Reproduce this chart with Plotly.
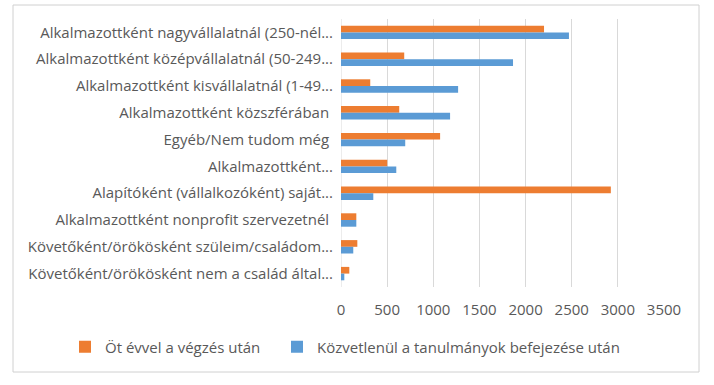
import plotly.graph_objects as go

categories = [
    "Alkalmazottként nagyvállalatnál (250-nél...",
    "Alkalmazottként középvállalatnál (50-249...",
    "Alkalmazottként kisvállalatnál (1-49...",
    "Alkalmazottként közszférában ",
    "Egyéb/Nem tudom még ",
    "Alkalmazottként...",
    "Alapítóként (vállalkozóként) saját...",
    "Alkalmazottként nonprofit szervezetnél ",
    "Követőként/örökösként szüleim/családom...",
    "Követőként/örökösként nem a család által...",
]
series_names = ["Öt évvel a végzés után", "Közvetlenül a tanulmányok befejezése után"]
ot_evvel = [2200, 685, 317, 631, 1074, 501, 2924, 166, 177, 90]
kozvetlenul = [2470, 1864, 1269, 1182, 696, 599, 350, 166, 133, 36]
x_ticks = [0, 500, 1000, 1500, 2000, 2500, 3000, 3500]

W, H = 714, 385
L, R, T, B = 341, 664, 19, 287
pw, ph = R - L, B - T

def px2x(x):
    return (x - L) / pw

def px2y(y):
    return (B - y) / ph

FONT = "Open Sans"
FS = 15
TXT = "#595959"

fig = go.Figure()
fig.add_trace(go.Bar(y=categories, x=ot_evvel, name=series_names[0], orientation="h",
                     marker=dict(color="#ED7D31", line=dict(width=0)), legend="legend"))
fig.add_trace(go.Bar(y=categories, x=kozvetlenul, name=series_names[1], orientation="h",
                     marker=dict(color="#5B9BD5", line=dict(width=0)), legend="legend2"))

leg_common = dict(orientation="h", xref="container", xanchor="left",
                  yref="container", y=1 - 347 / H, yanchor="middle",
                  font=dict(family=FONT, size=FS, color=TXT),
                  bgcolor="rgba(0,0,0,0)", borderwidth=0, itemwidth=30)

fig.update_layout(
    width=W, height=H,
    margin=dict(l=L, r=W - R, t=T, b=H - B, pad=0, autoexpand=False),
    paper_bgcolor="white", plot_bgcolor="white",
    barmode="group", bargap=0.5, bargroupgap=0,
    font=dict(family=FONT, size=FS, color=TXT),
    showlegend=True,
    legend=dict(x=65 / W, **leg_common),
    legend2=dict(x=277 / W, **leg_common),
    shapes=[dict(type="rect", xref="paper", yref="paper",
                 x0=px2x(13), x1=px2x(699), y0=px2y(372), y1=px2y(5),
                 line=dict(color="#D0D0D0", width=1), fillcolor="rgba(0,0,0,0)", layer="above"),
            dict(type="line", xref="x", yref="paper", x0=0, x1=0, y0=0, y1=1,
                 line=dict(color="#D9D9D9", width=1), layer="below")],
)
fig.update_xaxes(range=[0, 3500], tickvals=x_ticks, ticktext=[str(v) for v in x_ticks],
                 showgrid=True, gridcolor="#D9D9D9", gridwidth=1, zeroline=False,
                 showline=False, ticks="", ticklabelstandoff=12,
                 tickfont=dict(family=FONT, size=FS, color=TXT), fixedrange=True)
fig.update_yaxes(autorange="reversed", showgrid=False, zeroline=False, showline=False,
                 ticks="", ticklabelstandoff=7,
                 tickfont=dict(family=FONT, size=FS, color=TXT), fixedrange=True)

fig.write_html("out.html", config={"displayModeBar": False, "staticPlot": True},
               post_script="document.body.style.margin='0px';")
